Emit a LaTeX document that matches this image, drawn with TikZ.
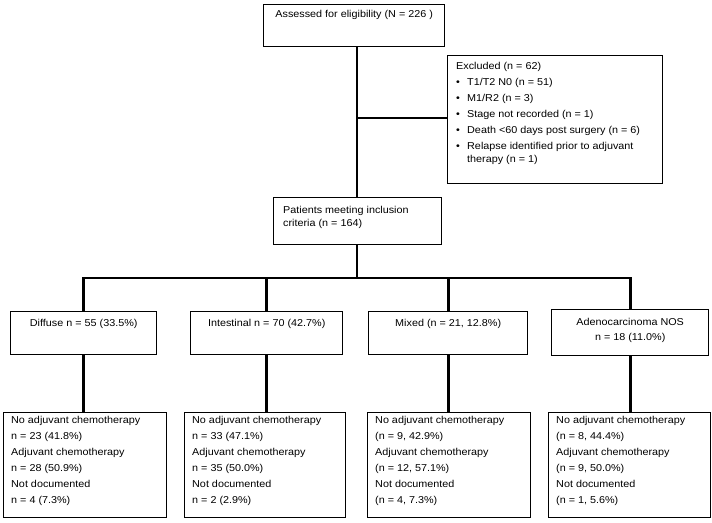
\documentclass[tikz,border=0pt]{standalone}
\usepackage{fontspec}
\setmainfont[FakeStretch=1.08]{Liberation Sans}
\usetikzlibrary{positioning}

\newcommand{\exbullet}{\makebox[11pt][l]{\textbullet}}

\tikzset{
  box/.style={draw, line width=1.4pt, inner sep=0pt, anchor=north west},
  txt/.style={inner sep=0pt, align=left, font=\fontsize{10}{16}\selectfont},
  conn/.style={line width=2.9pt},
}

\begin{document}
\begin{tikzpicture}[x=1pt, y=-1pt]
   \useasboundingbox (0,0) rectangle (712,522);
   % boxes
   \node[box, minimum width=181pt, minimum height=42pt] (assess) at (263,4) {};
   \node[box, minimum width=215pt, minimum height=128pt] (excl) at (447,55) {};
   \node[box, minimum width=168pt, minimum height=47pt] (incl) at (273,197) {};
   \node[box, minimum width=146pt, minimum height=43pt] (diffM) at (10,311) {};
   \node[box, minimum width=152pt, minimum height=43pt] (intM) at (190,311) {};
   \node[box, minimum width=159pt, minimum height=43pt] (mixM) at (368,311) {};
   \node[box, minimum width=157pt, minimum height=46pt] (adenoM) at (551,309) {};
   \node[box, minimum width=163pt, minimum height=105pt] (diffB) at (3,412) {};
   \node[box, minimum width=161pt, minimum height=105pt] (intB) at (184,412) {};
   \node[box, minimum width=163pt, minimum height=105pt] (mixB) at (367,412) {};
   \node[box, minimum width=162pt, minimum height=105pt] (adenoB) at (548,412) {};
   % texts
   \node[txt, below=6.5pt of assess.north] (assessT) {Assessed for eligibility (N = 226 )};
   \node[txt, font=\fontsize{10}{13}\selectfont, below right=7.5pt and 9pt of excl.north west] (exclT)
     {Excluded (n = 62)\\[3pt]
      \exbullet T1/T2 N0 (n = 51)\\[3pt]
      \exbullet M1/R2 (n = 3)\\[3pt]
      \exbullet Stage not recorded (n = 1)\\[3pt]
      \exbullet Death <60 days post surgery (n = 6)\\[3pt]
      \exbullet Relapse identified prior to adjuvant\\
      \hspace*{11pt}therapy (n = 1)};
   \node[txt, font=\fontsize{10}{13}\selectfont, below right=9.5pt and 10pt of incl.north west] (inclT)
     {Patients meeting inclusion\\criteria (n = 164)};
   \node[txt, below=8.5pt of diffM.north] (diffMT) {Diffuse n = 55 (33.5\%)};
   \node[txt, below=8.5pt of intM.north] (intMT) {Intestinal n = 70 (42.7\%)};
   \node[txt, below=8.5pt of mixM.north] (mixMT) {Mixed (n = 21, 12.8\%)};
   \node[txt, align=center, font=\fontsize{10}{15}\selectfont, below=9.5pt of adenoM.north] (adenoMT)
     {Adenocarcinoma NOS\\n = 18 (11.0\%)};
   \node[txt, below right=4.5pt and 8pt of diffB.north west] (diffBT)
     {No adjuvant chemotherapy\\n = 23 (41.8\%)\\Adjuvant chemotherapy\\n = 28 (50.9\%)\\Not documented\\n = 4 (7.3\%)};
   \node[txt, below right=4.5pt and 8pt of intB.north west] (intBT)
     {No adjuvant chemotherapy\\n = 33 (47.1\%)\\Adjuvant chemotherapy\\n = 35 (50.0\%)\\Not documented\\n = 2 (2.9\%)};
   \node[txt, below right=4.5pt and 8pt of mixB.north west] (mixBT)
     {No adjuvant chemotherapy\\(n = 9, 42.9\%)\\Adjuvant chemotherapy\\(n = 12, 57.1\%)\\Not documented\\(n = 4, 7.3\%)};
   \node[txt, below right=4.5pt and 8pt of adenoB.north west] (adenoBT)
     {No adjuvant chemotherapy\\(n = 8, 44.4\%)\\Adjuvant chemotherapy\\(n = 9, 50.0\%)\\Not documented\\(n = 1, 5.6\%)};
   % connectors
   \coordinate (split) at (357,118);
   \coordinate (bar) at (357,278);
   \draw[conn] (split |- assess.south) -- (split |- incl.north);
   \draw[conn] (split) -- (split -| excl.west);
   \draw[conn] (bar |- incl.south) -- (bar);
   \draw[conn] (diffM.north) -- (diffM.north |- bar) -- (adenoM.north |- bar) -- (adenoM.north);
   \draw[conn] (intM.north |- bar) -- (intM.north);
   \draw[conn] (mixM.north |- bar) -- (mixM.north);
   \foreach \m/\b in {diffM/diffB, intM/intB, mixM/mixB, adenoM/adenoB}
      \draw[conn] (\m.south) -- (\m.south |- \b.north);
\end{tikzpicture}
\end{document}
